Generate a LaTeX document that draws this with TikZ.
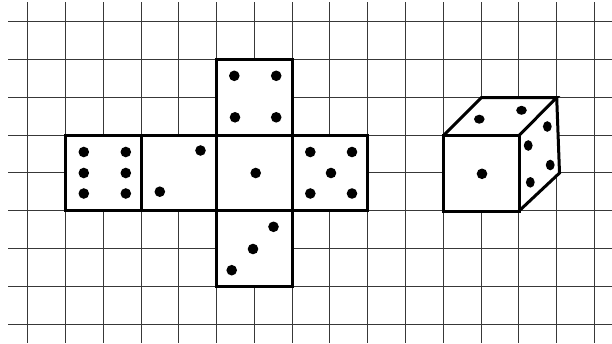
\documentclass[tikz,border=0pt]{standalone}
\tikzset{
  gridline/.style={draw=black!78,line width=0.95pt},
  heavy/.style={draw=black,line width=3pt,line join=miter},
  pip/.style={fill=black,draw=none},
}
\begin{document}
\begin{tikzpicture}[x=1pt,y=-1pt]
\useasboundingbox (0,0) rectangle (612,343);
\fill[white] (0,0) rectangle (612,343);
% grid
\foreach \x in {27.7,65.5,103.3,141,178.8,216.6,254.4,292.1,329.9,367.7,405.5,443.2,481,518.8,556.5,594.3}
  \draw[gridline] (\x,2) -- (\x,343);
\foreach \y in {21.7,59.5,97.3,135.1,172.9,210.6,248.4,286.2,324}
  \draw[gridline] (8,\y) -- (612,\y);
% net
\fill[white] (65.5,135.1) rectangle (367.7,210.6);
\fill[white] (216.6,59.5) rectangle (292.1,286.2);
\draw[heavy] (216.6,59.5) rectangle (292.1,135.1);
\draw[heavy] (216.6,210.6) rectangle (292.1,286.2);
\draw[heavy] (65.5,135.1) rectangle (367.7,210.6);
\draw[heavy] (141,135.1) -- (141,210.6);
\draw[heavy] (216.6,135.1) -- (216.6,210.6);
\draw[heavy] (292.1,135.1) -- (292.1,210.6);
% pips of the net
\foreach \x/\y in {234.3/75.8,276.2/75.8,235/117.3,276.2/117.3,
  83.8/152,125.8/152,83.8/173,125.8/173,83.8/193.5,125.8/193.5,
  200.5/150.5,159.8/191.7,255.7/173,
  310.3/152,352/152,331/173,310.3/193.5,352/193.5,
  273.5/226.8,253/249,231.7/270.2}
  \fill[pip] (\x,\y) circle (5.3);
% cube
\fill[white] (443.5,135.5) -- (481.5,97.5) -- (556.7,97.5) -- (559.5,173) -- (519,211) -- (443.5,211) -- cycle;
\draw[heavy] (443.5,135.5) rectangle (519,211);
\draw[heavy] (443.5,135.5) -- (481.5,97.5) -- (556.7,97.5) -- (519,135.5);
\draw[heavy] (556.7,97.5) -- (559.5,173) -- (519,211);
% pips of the cube
\fill[pip] (482,173.8) circle (5.3);
\fill[pip] (479.3,119.2) ellipse (5.3 and 4.5);
\fill[pip] (521.5,110.3) ellipse (5.3 and 4.5);
\foreach \x/\y in {547.3/126.5,528.2/145.5,550.2/165,530.3/182.3}
  \fill[pip] (\x,\y) ellipse (4.4 and 5.3);
\end{tikzpicture}
\end{document}
